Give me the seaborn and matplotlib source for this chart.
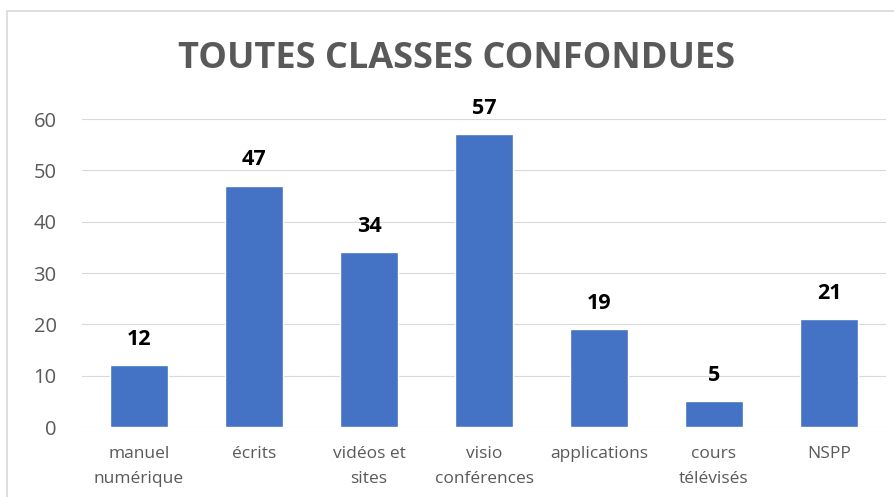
import matplotlib
matplotlib.use("Agg")
import matplotlib.pyplot as plt
import seaborn as sns
import pandas as pd
from matplotlib.patches import Rectangle

# chart data
categories = ["manuel\nnumérique", "écrits", "vidéos et\nsites", "visio\nconférences",
              "applications", "cours\ntélévisés", "NSPP"]
values = [12, 47, 34, 57, 19, 5, 21]
yticks = [0, 10, 20, 30, 40, 50, 60]

df = pd.DataFrame({"support": categories, "nb": values})

sns.set_style("white")
plt.rcParams["font.family"] = ["Open Sans", "DejaVu Sans"]

fig = plt.figure(figsize=(8.94, 4.97), dpi=100)
ax = fig.add_axes([0.0912, 0.1408, 0.9004, 0.6197])

sns.barplot(data=df, x="support", y="nb", color="#4472C4", saturation=1,
            width=0.5, ax=ax, zorder=3)

ax.set_ylim(0, 60)
ax.set_xlim(-0.5, len(categories) - 0.5)
ax.set_yticks(yticks)
ax.yaxis.grid(True, color="#D9D9D9", linewidth=0.8, zorder=0)
ax.set_axisbelow(True)
for s in ax.spines.values():
    s.set_visible(False)
ax.set_xlabel("")
ax.set_ylabel("")
ax.tick_params(axis="y", length=0, labelsize=14.5, labelcolor="#595959", pad=18)
ax.tick_params(axis="x", length=0, labelsize=12.5, labelcolor="#595959", pad=14)
for lbl in ax.get_xticklabels():
    lbl.set_linespacing(1.75)

# value labels
for i, v in enumerate(values):
    ax.text(i, v + 3, str(v), ha="center", va="bottom", fontsize=15.5,
            fontweight="bold", color="black")

fig.text(0.511, 0.882, "TOUTES CLASSES CONFONDUES", ha="center", va="center",
         fontsize=26, fontweight="bold", color="#595959")

# chart border (cropped on right and bottom)
fig.patches.append(Rectangle((7 / 894, -0.1), 1.1, 1.1 - 11 / 497,
                             transform=fig.transFigure, fill=False,
                             edgecolor="#D9D9D9", linewidth=1.2))

fig.savefig("out.png", dpi=100)
